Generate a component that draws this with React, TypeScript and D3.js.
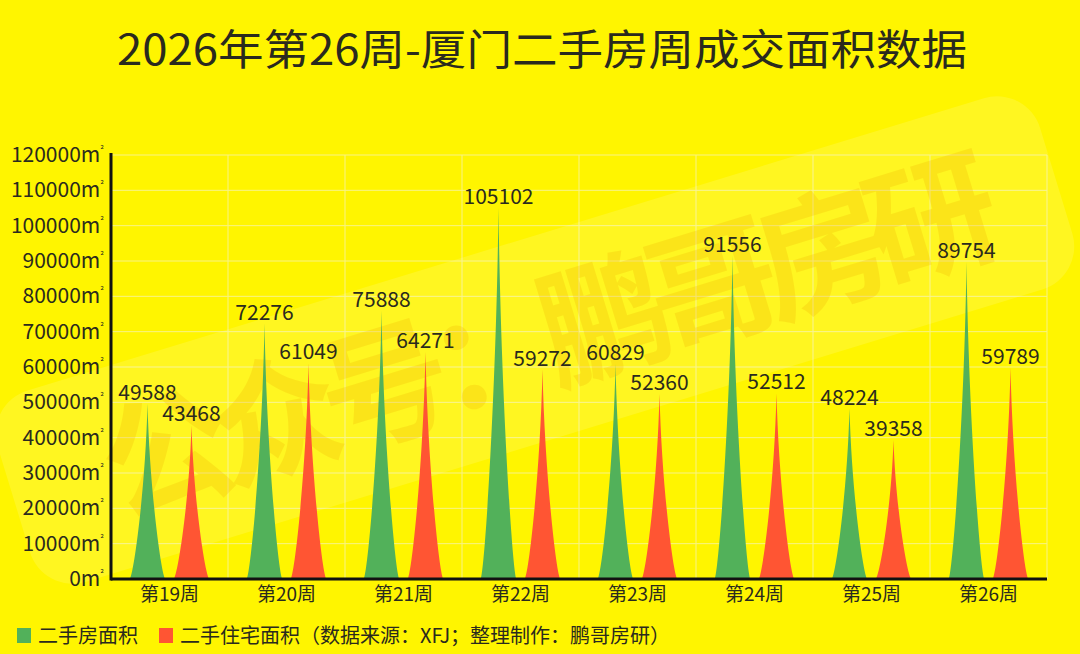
import React from 'react';
import * as d3 from 'd3';

const weeks = ['第19周', '第20周', '第21周', '第22周', '第23周', '第24周', '第25周', '第26周'];
const seriesNames = ['二手房面积', '二手住宅面积（数据来源：XFJ；整理制作：鹏哥房研）'];
const totalArea = [49588, 72276, 75888, 105102, 60829, 91556, 48224, 89754];
const residentialArea = [43468, 61049, 64271, 59272, 52360, 52512, 39358, 59789];
const yTicks = [0, 10000, 20000, 30000, 40000, 50000, 60000, 70000, 80000, 90000, 100000, 110000, 120000];

const W = 1080;
const H = 654;
const BG = '#fff500';
const COLORS = ['#52b15a', '#ff5533'];
const FONT = '"Noto Sans CJK SC", "Noto Sans", sans-serif';
const TEXT = '#2a2a1e';

const margin = { left: 111, right: 33, top: 155, bottom: 75 };

// pointed "spike" shape with concave sides
const spikePath = (cx: number, w: number, y0: number, y1: number) => {
  const p = d3.path();
  const h = y0 - y1;
  p.moveTo(cx - w / 2, y0);
  p.lineTo(cx + w / 2, y0);
  p.bezierCurveTo(cx + w * 0.4, y0, cx + w * 0.06, y0 - h * 0.5, cx, y1);
  p.bezierCurveTo(cx - w * 0.06, y0 - h * 0.5, cx - w * 0.4, y0, cx - w / 2, y0);
  p.closePath();
  return p.toString();
};

const App: React.FC = () => {
  const x = d3.scaleBand<string>().domain(weeks).range([margin.left, W - margin.right]);
  const bw = x.bandwidth();
  const inner = d3.scaleBand<number>().domain([0, 1]).range([bw / 2 - 44, bw / 2 + 44]);
  const y = d3.scaleLinear().domain([0, 120000]).range([H - margin.bottom, margin.top]);
  const y0 = y(0);
  const spikeW = 36;
  const series = [totalArea, residentialArea];
  const cxOf = (si: number, i: number) =>
    (x(weeks[i]) as number) + (inner(si) as number) + inner.bandwidth() / 2;

  return (
    <svg width={W} height={H} style={{ position: 'absolute', left: 0, top: 0, display: 'block' }}>
      <rect width={W} height={H} fill={BG} />

      <text x={542} y={65} textAnchor="middle" fontFamily={FONT} fontSize={42} fontWeight={400}
        fill={TEXT} textLength={850} lengthAdjust="spacingAndGlyphs">
        2026年第26周-厦门二手房周成交面积数据
      </text>

      {/* grid */}
      <g stroke="#f8f387" strokeWidth={1}>
        {yTicks.slice(1).map((t) => (
          <line key={t} x1={margin.left} x2={W - margin.right} y1={y(t)} y2={y(t)} />
        ))}
        {weeks.map((wk) => (
          <line key={wk} x1={(x(wk) as number) + bw} x2={(x(wk) as number) + bw} y1={y(120000)} y2={y0} />
        ))}
      </g>

      {/* watermark */}
      <g transform="translate(535,340) rotate(-17)">
        <rect x={-545} y={-100} width={1090} height={200} rx={45} fill="#ffffff" opacity={0.13} />
        <text x={15} y={48} textAnchor="middle" fontFamily={FONT} fontSize={130} fontWeight={700}
          fill="#f0a800" opacity={0.22} textLength={930} lengthAdjust="spacing">
          公众号：鹏哥房研
        </text>
      </g>

      {/* spikes */}
      {series.map((vals, si) => (
        <g key={si} fill={COLORS[si]}>
          {vals.map((v, i) => (
            <path key={i} d={spikePath(cxOf(si, i), spikeW, y0, y(v))} />
          ))}
        </g>
      ))}

      {/* value labels */}
      {series.map((vals, si) => (
        <g key={si} fontFamily={FONT} fontSize={21} fill={TEXT} textAnchor="middle">
          {vals.map((v, i) => (
            <text key={i} x={cxOf(si, i)} y={y(v) - 4}>
              {v}
            </text>
          ))}
        </g>
      ))}

      {/* axes */}
      <line x1={margin.left} x2={margin.left} y1={y(120000) - 2} y2={y0 + 1.5} stroke="#111" strokeWidth={3} />
      <line x1={margin.left} x2={W - margin.right} y1={y0} y2={y0} stroke="#111" strokeWidth={3} />

      <g fontFamily={FONT} fontSize={21} fill={TEXT} textAnchor="end">
        {yTicks.map((t) => (
          <text key={t} x={104} y={y(t) + 7}>
            {t}m<tspan fontSize={9} dy={-9}>²</tspan>
          </text>
        ))}
      </g>

      <g fontFamily={FONT} fontSize={19} fill={TEXT} textAnchor="middle">
        {weeks.map((wk) => (
          <text key={wk} x={(x(wk) as number) + bw / 2} y={601}>
            {wk}
          </text>
        ))}
      </g>

      {/* legend */}
      <g fontFamily={FONT} fontSize={20} fill={TEXT}>
        <rect x={17} y={628} width={14} height={15} fill={COLORS[0]} />
        <text x={38} y={643}>{seriesNames[0]}</text>
        <rect x={159} y={628} width={14} height={15} fill={COLORS[1]} />
        <text x={180} y={643}>{seriesNames[1]}</text>
      </g>
    </svg>
  );
};

export default App;
